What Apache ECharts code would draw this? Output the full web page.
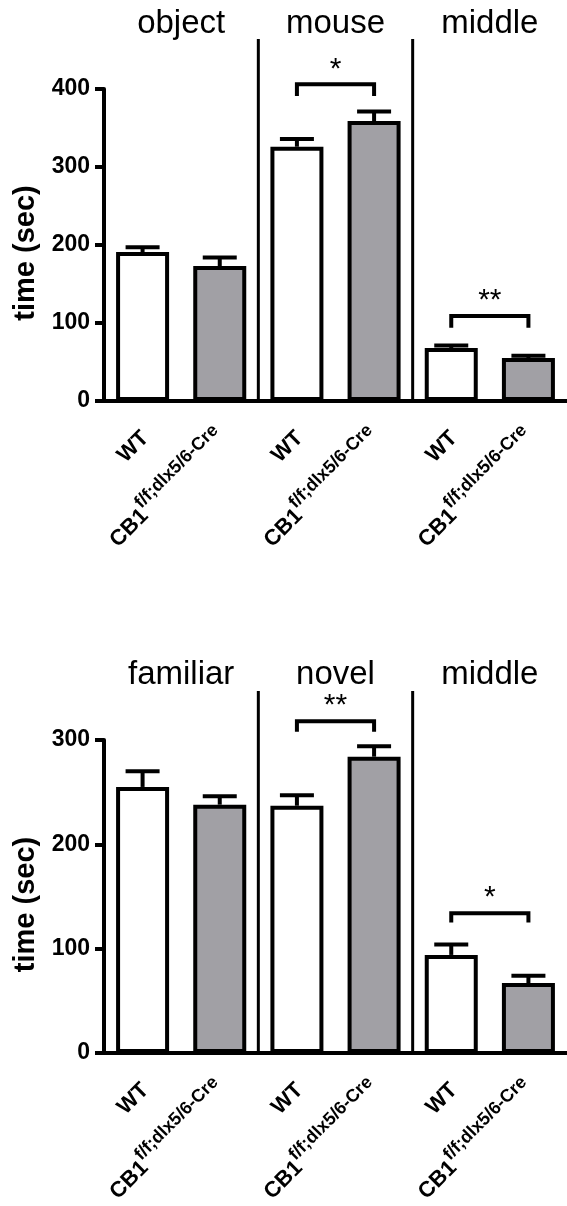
<!DOCTYPE html>
<html>
<head>
<meta charset="utf-8">
<script src="https://cdn.jsdelivr.net/npm/echarts@6/dist/echarts.min.js"></script>
<style>
  html, body { margin: 0; padding: 0; background: #fff; }
  #chart { width: 567px; height: 1206px; }
</style>
</head>
<body>
<div id="chart"></div>
<script>
// genotypes per zone (WT / CB1 cKO), 3 zones per panel
const genotypes = ['WT', 'CB1', 'WT', 'CB1', 'WT', 'CB1']
const cbSuffix = 'f/f;dlx5/6-Cre'
const zonesTop = ['object', 'mouse', 'middle']
const zonesBottom = ['familiar', 'novel', 'middle']

// top panel: sociability, time (sec)
const socMean = [191, 173, 326, 359, 68, 55]
const socSem = [6, 11, 10, 12, 3, 3]
// bottom panel: social novelty, time (sec)
const novMean = [255, 238, 237, 284, 94, 67]
const novSem = [15, 8, 10, 10, 10, 7]

// significance brackets: [from, to, bar value, leg value, stars]
const socSig = [[2, 3, 406, 391, '*'], [4, 5, 109, 94, '**']]
const novSig = [[2, 3, 318, 308, '**'], [4, 5, 134, 125, '*']]

// zone separators: [after category, top value]
const socSep = [[1, 464], [3, 464]]
const novSep = [[1, 347], [3, 347]]

const yMaxTop = 400
const yMaxBottom = 300
const yStep = 100

const font = 'Liberation Sans, Arial, Helvetica, sans-serif'
const gray = '#a1a0a5'

function xAxis(gridIndex) {
  return {
    type: 'category',
    gridIndex,
    data: genotypes.map((g, i) => g + '_' + i),
    axisLine: { lineStyle: { color: '#000', width: 4 } },
    axisTick: { alignWithLabel: true, length: 10, lineStyle: { color: '#000', width: 4 } },
    axisLabel: {
      interval: 0,
      rotate: 45,
      margin: 31,
      color: '#000',
      formatter: (v, i) => genotypes[i] === 'WT' ? '{b|WT}' : '{b|CB1}{s|' + cbSuffix + '}',
      rich: {
        // top-aligned small token = superscript
        b: { fontSize: 22, fontWeight: 'bold', fontFamily: font, color: '#000', lineHeight: 30, verticalAlign: 'bottom' },
        s: { fontSize: 18, fontWeight: 'bold', fontFamily: font, color: '#000', lineHeight: 17, verticalAlign: 'top' }
      }
    }
  }
}

function yAxis(gridIndex, max) {
  return {
    type: 'value',
    gridIndex,
    min: 0,
    max,
    interval: yStep,
    splitLine: { show: false },
    axisLine: { show: true, lineStyle: { color: '#000', width: 4 } },
    axisTick: { show: true, length: 9, lineStyle: { color: '#000', width: 4 } },
    axisLabel: { color: '#000', fontSize: 23, fontWeight: 'bold', fontFamily: font, margin: 14 },
    name: 'time (sec)',
    nameLocation: 'middle',
    nameGap: 64,
    nameTextStyle: { color: '#000', fontSize: 29, fontWeight: 'bold', fontFamily: font, padding: [0, 16, 0, 0] }
  }
}

function barSeries(idx, data) {
  return {
    type: 'bar',
    xAxisIndex: idx,
    yAxisIndex: idx,
    data,
    barWidth: 53,
    silent: true,
    itemStyle: {
      color: p => p.dataIndex % 2 ? gray : '#fff',
      borderColor: '#000',
      borderWidth: 4
    }
  }
}

function errorSeries(idx, mean, sem) {
  return {
    type: 'custom',
    xAxisIndex: idx,
    yAxisIndex: idx,
    silent: true,
    z: 3,
    data: mean.map((m, i) => [i, m, sem[i]]),
    renderItem: (params, api) => {
      const i = api.value(0)
      const base = api.coord([i, api.value(1)])
      const top = api.coord([i, api.value(1) + api.value(2)])
      const st = { stroke: '#000', lineWidth: 4 }
      return {
        type: 'group',
        children: [
          { type: 'line', shape: { x1: base[0], y1: base[1], x2: top[0], y2: top[1] }, style: st },
          { type: 'line', shape: { x1: top[0] - 17, y1: top[1], x2: top[0] + 17, y2: top[1] }, style: st }
        ]
      }
    }
  }
}

function sigSeries(idx, sig) {
  return {
    type: 'custom',
    xAxisIndex: idx,
    yAxisIndex: idx,
    silent: true,
    z: 3,
    data: sig.map(s => [s[0], s[1], s[2], s[3]]),
    renderItem: (params, api) => {
      const a = api.coord([api.value(0), api.value(2)])
      const b = api.coord([api.value(1), api.value(2)])
      const leg = api.coord([api.value(0), api.value(3)])[1]
      return {
        type: 'group',
        children: [
          {
            type: 'polyline',
            shape: { points: [[a[0], leg], [a[0], a[1]], [b[0], b[1]], [b[0], leg]] },
            style: { stroke: '#000', lineWidth: 4, fill: null, lineJoin: 'miter' }
          },
          {
            type: 'text',
            x: (a[0] + b[0]) / 2,
            y: a[1] - 15,
            style: {
              text: sig[params.dataIndex][4],
              align: 'center',
              verticalAlign: 'middle',
              fontSize: 30,
              fontFamily: font,
              fill: '#000'
            }
          }
        ]
      }
    }
  }
}

function sepSeries(idx, sep) {
  return {
    type: 'custom',
    xAxisIndex: idx,
    yAxisIndex: idx,
    silent: true,
    z: 3,
    data: sep,
    renderItem: (params, api) => {
      const half = api.size([1, 0])[0] / 2
      const top = api.coord([api.value(0), api.value(1)])
      const bottom = api.coord([api.value(0), 0])
      return {
        type: 'line',
        shape: { x1: top[0] + half, y1: top[1], x2: bottom[0] + half, y2: bottom[1] },
        style: { stroke: '#000', lineWidth: 3 }
      }
    }
  }
}

function zoneSeries(idx, zones) {
  return {
    type: 'custom',
    xAxisIndex: idx,
    yAxisIndex: idx,
    silent: true,
    data: zones.map((z, k) => [2 * k, 2 * k + 1]),
    renderItem: (params, api) => {
      const a = api.coord([api.value(0), 0])
      const b = api.coord([api.value(1), 0])
      return {
        type: 'text',
        x: (a[0] + b[0]) / 2,
        y: params.coordSys.y - 65,
        style: {
          text: zones[params.dataIndex],
          align: 'center',
          verticalAlign: 'middle',
          fontSize: 33,
          fontFamily: font,
          fill: '#000'
        }
      }
    }
  }
}

const option = {
  animation: false,
  backgroundColor: '#fff',
  grid: [
    { left: 104, top: 89, width: 467, height: 312 },
    { left: 104, top: 740, width: 467, height: 313 }
  ],
  xAxis: [xAxis(0), xAxis(1)],
  yAxis: [yAxis(0, yMaxTop), yAxis(1, yMaxBottom)],
  series: [
    barSeries(0, socMean),
    errorSeries(0, socMean, socSem),
    sigSeries(0, socSig),
    sepSeries(0, socSep),
    zoneSeries(0, zonesTop),
    barSeries(1, novMean),
    errorSeries(1, novMean, novSem),
    sigSeries(1, novSig),
    sepSeries(1, novSep),
    zoneSeries(1, zonesBottom)
  ]
}

const chart = echarts.init(document.getElementById('chart'))
chart.setOption(option)
</script>
</body>
</html>
